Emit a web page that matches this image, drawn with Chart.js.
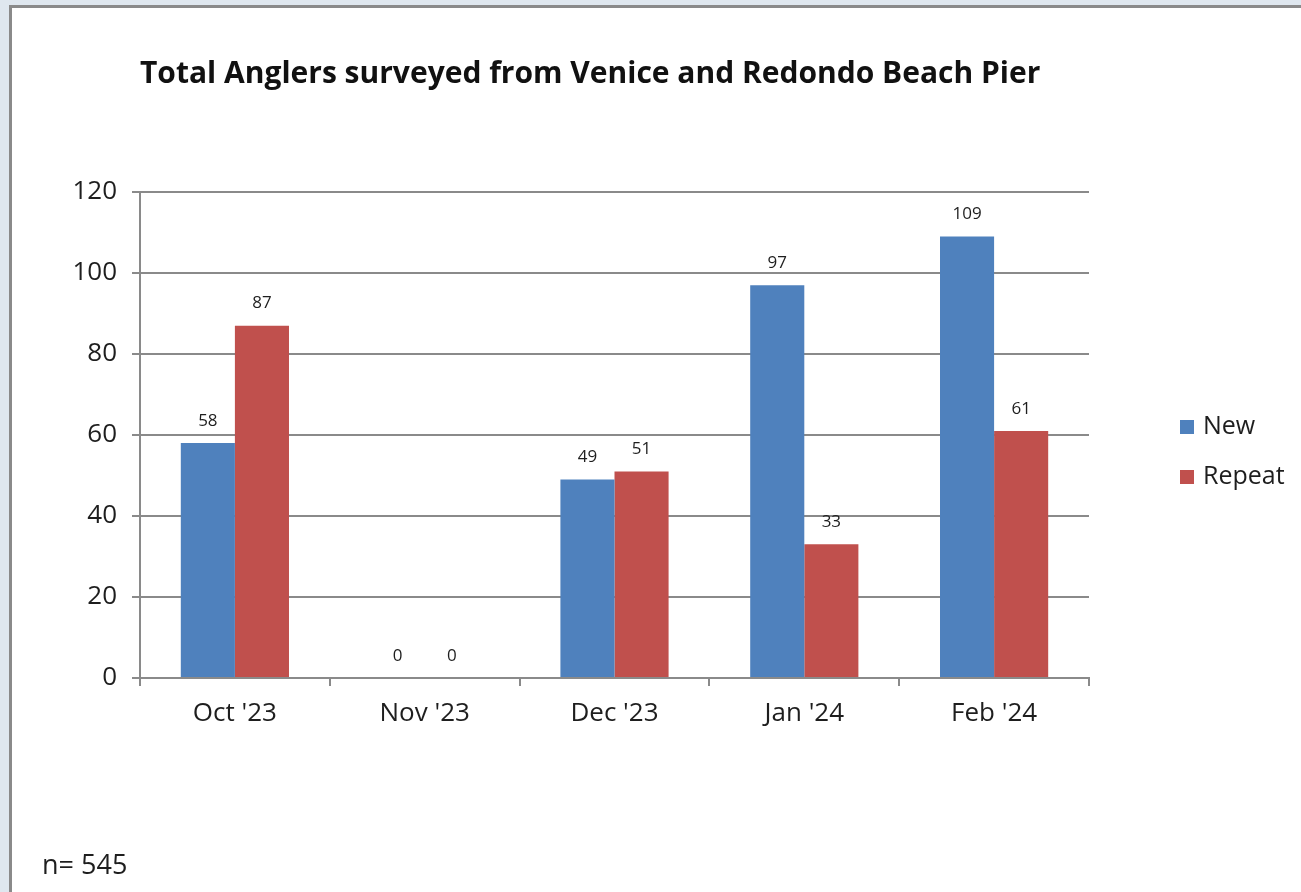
<!DOCTYPE html>
<html lang="en">
<head>
<meta charset="utf-8">
<title>Total Anglers surveyed</title>
<script src="https://cdn.jsdelivr.net/npm/chart.js@4.4.1/dist/chart.umd.min.js"></script>
<style>
    html, body { margin: 0; padding: 0; }
    body {
        width: 1301px;
        height: 892px;
        background: #dfe7ef;
        overflow: hidden;
        position: relative;
        font-family: "Open Sans", sans-serif;
    }
    .sheet {
        position: absolute;
        left: 9px;
        top: 5px;
        right: 0;
        bottom: 0;
        background: #ffffff;
        border-left: 3px solid #8a8a8a;
        border-top: 3px solid #8a8a8a;
    }
    .chart-box {
        position: absolute;
        left: 0;
        top: 0;
        width: 1289px;
        height: 884px;
    }
    .note {
        position: absolute;
        left: 30px;
        top: 837px;
        font-size: 27px;
        color: #1e1e1e;
    }
</style>
</head>
<body>
<div class="sheet">
    <div class="chart-box"><canvas id="anglerChart" width="1289" height="884"></canvas></div>
    <div class="note">n= 545</div>
</div>
<script>
const months = ["Oct '23", "Nov '23", "Dec '23", "Jan '24", "Feb '24"];
const newAnglers = [58, 0, 49, 97, 109];
const repeatAnglers = [87, 0, 51, 33, 61];
const yTicks = [0, 20, 40, 60, 80, 100, 120];

(() => {
    'use strict';

    const axisGray = '#8a8a8a';
    const textColor = '#1e1e1e';
    const fontFamily = '"Open Sans", sans-serif';

    // value printed above each bar
    const barValueLabels = {
        id: 'barValueLabels',
        afterDatasetsDraw(chart) {
            const ctx = chart.ctx;
            ctx.save();
            ctx.font = '17px ' + fontFamily;
            ctx.fillStyle = textColor;
            ctx.textAlign = 'center';
            ctx.textBaseline = 'middle';
            chart.data.datasets.forEach((ds, i) => {
                chart.getDatasetMeta(i).data.forEach((bar, j) => {
                    ctx.fillText(String(ds.data[j]), bar.x, bar.y - 22);
                });
            });
            ctx.restore();
        }
    };

    // series key on the right side of the plot
    const sideLegend = {
        id: 'sideLegend',
        afterDraw(chart) {
            const ctx = chart.ctx;
            const area = chart.chartArea;
            const x = area.right + 91;
            let y = (area.top + area.bottom) / 2 - 8;
            ctx.save();
            ctx.font = '25px ' + fontFamily;
            ctx.textBaseline = 'middle';
            ctx.textAlign = 'left';
            chart.data.datasets.forEach(ds => {
                ctx.fillStyle = ds.backgroundColor;
                ctx.fillRect(x, y - 7, 14, 14);
                ctx.fillStyle = textColor;
                ctx.fillText(ds.label, x + 23, y);
                y += 50;
            });
            ctx.restore();
        }
    };

    new Chart(document.getElementById('anglerChart'), {
        type: 'bar',
        data: {
            labels: months,
            datasets: [
                { label: 'New', data: newAnglers, backgroundColor: '#4f81bd', borderWidth: 0 },
                { label: 'Repeat', data: repeatAnglers, backgroundColor: '#c0504d', borderWidth: 0 }
            ]
        },
        options: {
            responsive: false,
            animation: false,
            events: [],
            categoryPercentage: 0.57,
            barPercentage: 1.0,
            layout: { padding: { top: 0, left: 0, right: 212, bottom: 154 } },
            plugins: {
                legend: { display: false },
                tooltip: { enabled: false },
                title: {
                    display: true,
                    text: 'Total Anglers surveyed from Venice and Redondo Beach Pier',
                    align: 'start',
                    fullSize: false,
                    color: '#111111',
                    font: { family: fontFamily, size: 30, weight: 'bold' },
                    padding: { top: 48, bottom: 100 }
                }
            },
            scales: {
                x: {
                    grid: { drawOnChartArea: false, drawTicks: true, tickLength: 8, color: axisGray, lineWidth: 2, offset: true },
                    border: { display: true, color: axisGray, width: 2 },
                    ticks: { color: textColor, padding: 12, font: { family: fontFamily, size: 26 } },
                    afterFit(scale) { scale.height = 60; }
                },
                y: {
                    min: 0,
                    max: 120,
                    afterBuildTicks(scale) { scale.ticks = yTicks.map(v => ({ value: v })); },
                    grid: { color: axisGray, lineWidth: 2, drawTicks: true, tickLength: 8 },
                    border: { display: true, color: axisGray, width: 2 },
                    ticks: { color: textColor, padding: 15, font: { family: fontFamily, size: 26 } },
                    afterFit(scale) { scale.width = 128; }
                }
            }
        },
        plugins: [barValueLabels, sideLegend]
    });
})();
</script>
</body>
</html>
